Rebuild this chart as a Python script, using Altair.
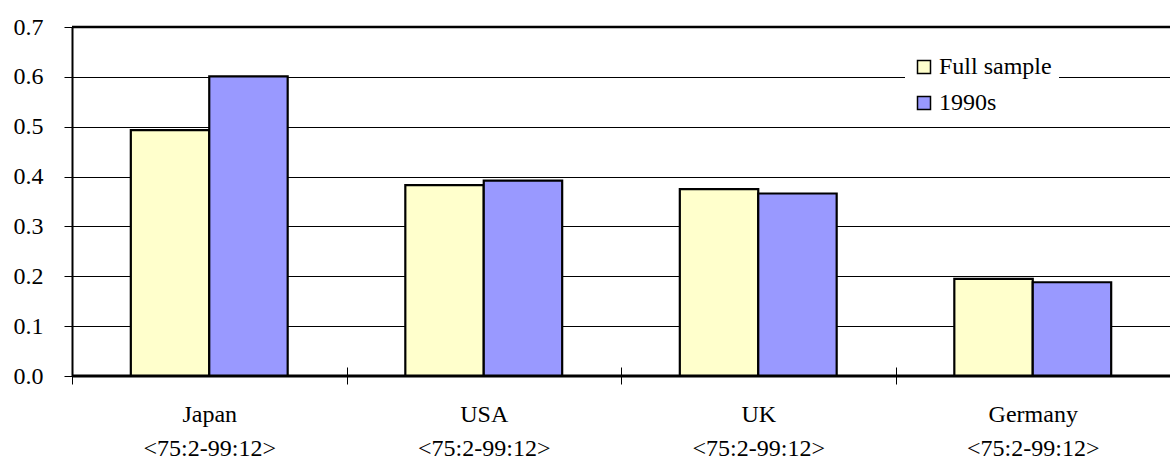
import altair as alt
import pandas as pd

countries = ["Japan", "USA", "UK", "Germany"]
periods = ["<75:2-99:12>", "<75:2-99:12>", "<75:2-99:12>", "<75:2-99:12>"]
series = ["Full sample", "1990s"]
full_sample = [0.493, 0.383, 0.375, 0.195]
nineties = [0.601, 0.392, 0.366, 0.188]
colors = ["#FFFFCC", "#9999FF"]
y_ticks = [0.0, 0.1, 0.2, 0.3, 0.4, 0.5, 0.6, 0.7]

rows = []
for c, a, b in zip(countries, full_sample, nineties):
    rows.append({"Country": c, "Series": series[0], "Value": a})
    rows.append({"Country": c, "Series": series[1], "Value": b})
df = pd.DataFrame(rows)

period_map = "{" + ", ".join(f"'{c}': '{p}'" for c, p in zip(countries, periods)) + "}"

FONT = "Times New Roman, Liberation Serif, serif"
FS = 24

bars = alt.Chart(df).mark_bar(stroke="black", strokeWidth=2.2).encode(
    x=alt.X(
        "Country:N",
        sort=countries,
        scale=alt.Scale(paddingInner=0, paddingOuter=0),
        axis=alt.Axis(
            title=None,
            domain=False,
            offset=-9,
            tickSize=17,
            tickColor="black",
            tickWidth=1,
            tickBand="extent",
            labelAngle=0,
            labelFont=FONT,
            labelFontSize=FS,
            labelColor="black",
            labelPadding=18,
            labelLineHeight=34,
            labelExpr="[datum.label, " + period_map + "[datum.label]]",
        ),
    ),
    xOffset=alt.XOffset(
        "Series:N",
        sort=series,
        scale=alt.Scale(paddingInner=0, paddingOuter=0.75),
    ),
    y=alt.Y(
        "Value:Q",
        scale=alt.Scale(domain=[0, 0.7], nice=False),
        axis=alt.Axis(
            title=None,
            values=y_ticks,
            format=".1f",
            grid=True,
            gridColor="black",
            gridWidth=1,
            domainColor="black",
            domainWidth=2,
            tickColor="black",
            tickSize=8,
            tickWidth=1,
            labelFont=FONT,
            labelFontSize=FS,
            labelColor="black",
            labelPadding=21,
        ),
    ),
    color=alt.Color(
        "Series:N",
        sort=series,
        scale=alt.Scale(domain=series, range=colors),
        legend=alt.Legend(
            title=None,
            orient="none",
            legendX=833,
            legendY=21,
            fillColor="white",
            padding=7,
            symbolType="square",
            symbolSize=169,
            symbolStrokeColor="black",
            symbolStrokeWidth=1.5,
            symbolOpacity=1,
            labelFont=FONT,
            labelFontSize=FS,
            labelColor="black",
            labelOffset=3,
            rowPadding=12,
            labelLimit=300,
        ),
    ),
)

top_line = alt.Chart().mark_rule(color="black", strokeWidth=2.5).encode(
    y=alt.datum(0.7)
)
bottom_line = alt.Chart().mark_rule(color="black", strokeWidth=3).encode(
    y=alt.datum(0.0)
)

chart = alt.layer(bars, top_line, bottom_line).properties(
    width=1098,
    height=349,
    autosize=alt.AutoSizeParams(type="none"),
    padding={"left": 72, "top": 27, "right": 0, "bottom": 84},
    background="white",
).configure_view(stroke=None)

chart.save("out.html", embed_options={"renderer": "svg", "actions": False})
